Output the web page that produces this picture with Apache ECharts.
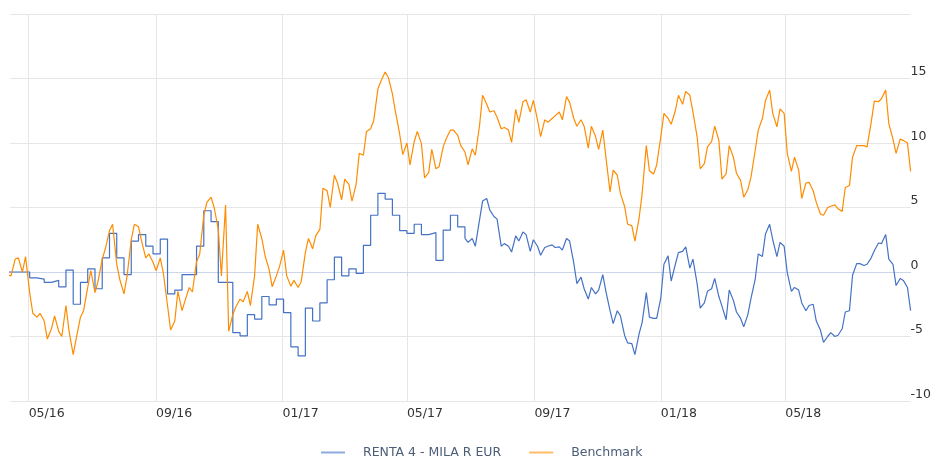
<!DOCTYPE html>
<html>
<head>
<meta charset="utf-8">
<script src="https://cdn.jsdelivr.net/npm/echarts@6/dist/echarts.min.js"></script>
<style>
html, body { margin: 0; padding: 0; background: #fff; }
#chart { width: 934px; height: 459px; }
</style>
</head>
<body>
<div id="chart"></div>
<script>
// samples are taken on Mondays and Thursdays, counted from Monday 11/04/2016
var fundName = 'RENTA 4 - MILA R EUR';
var benchName = 'Benchmark';
var tickMonths = ['2016-05', '2016-09', '2017-01', '2017-05', '2017-09', '2018-01', '2018-05'];

// fund, weekly NAV (one value per Monday, week 0 .. 63)
var fundWeekly = [
    0.0, 0.0, 0.0, -0.45, -0.55, -0.8, -0.65, -1.15, 0.15, -2.5,
    -0.8, 0.25, -1.3, 1.1, 3.0, 1.1, -0.2, 2.4, 2.9, 2.0,
    1.4, 2.55, -1.7, -1.4, -0.2, -0.2, 2.0, 4.75, 3.9, -0.8,
    -0.8, -4.7, -4.95, -3.3, -3.65, -1.9, -2.55, -2.1, -3.15, -5.8,
    -6.5, -2.8, -3.8, -2.4, -0.6, 1.15, -0.3, 0.25, -0.1, 2.07,
    4.4, 6.1, 5.65, 4.4, 3.2, 3.0, 3.7, 2.9, 3.05, 0.9,
    3.25, 4.4, 3.5, 2.6
];

// fund, Monday/Thursday values from week 63 on
var fundDaily = [
    2.6, 2.3, 2.6, 2.0, 4.0, 5.5, 5.7, 4.8, 4.3, 4.1, 2.0, 2.2, 2.0, 1.55, 2.8, 2.4, 3.1, 2.9, 1.6, 2.5,
    2.0, 1.3, 1.9, 2.0, 2.1, 1.9, 1.95, 1.7, 2.6, 2.4, 0.7, -0.9, -0.4, -1.3, -2.1, -1.2, -1.7, -1.4, -0.2, -1.5,
    -3.0, -4.0, -3.0, -3.4, -4.9, -5.5, -5.55, -6.4, -4.8, -3.9, -1.6, -3.5, -3.6, -3.6, -2.0, 0.6, 1.25, -0.7, 0.6, 1.5,
    1.6, 1.95, 0.3, 1.0, -0.9, -2.8, -2.4, -1.5, -1.3, -0.5, -1.9, -2.65, -3.7, -1.4, -2.2, -3.1, -3.6, -4.25, -3.3, -2.05,
    -0.6, 1.4, 1.2, 2.95, 3.7, 2.5, 1.2, 2.3, 2.0, -0.05, -1.5, -1.2, -1.4, -2.4, -3.0, -2.6, -2.5, -3.8, -4.5, -5.45,
    -5.0, -4.7, -5.0, -4.9, -4.4, -3.1, -3.0, -0.25, 0.65, 0.65, 0.5, 0.6, 1.1, 1.65, 2.25, 2.2, 2.9, 1.0, 0.6, -1.05,
    -0.5, -0.65, -1.2, -3.0
];

// benchmark, Monday/Thursday values from week 0
var benchmark = [
    -0.2, -0.3, 1.0, 1.1, 0.0, 1.2, -1.6, -3.2, -3.5, -3.2, -3.8, -5.2, -4.4, -3.4, -4.6, -5.0, -2.6, -4.6, -6.4, -5.1,
    -3.5, -3.0, -1.2, 0.1, -1.6, -0.7, 1.0, 1.8, 3.2, 3.7, 0.6, -0.6, -1.7, -0.3, 2.5, 3.7, 3.5, 2.4, 1.1, 1.4,
    0.75, 0.1, 1.1, -0.1, -2.6, -4.5, -3.8, -1.5, -3.0, -2.2, -1.2, -1.55, 0.8, 1.35, 4.4, 5.4, 5.8, 5.0, 3.3, -0.3,
    5.2, -4.6, -3.3, -2.7, -2.1, -2.3, -1.5, -2.6, -0.3, 3.7, 2.6, 1.3, 0.2, -1.15, -0.3, 0.4, 1.7, -0.3, -1.1, -0.65,
    -1.2, -0.75, 1.5, 2.6, 1.8, 2.8, 3.3, 6.5, 6.3, 5.0, 7.5, 6.9, 5.6, 7.2, 6.8, 5.5, 6.8, 9.2, 9.05, 10.9,
    11.1, 11.75, 14.2, 14.8, 15.5, 15.1, 13.8, 12.4, 10.7, 9.1, 10.0, 8.3, 10.1, 10.9, 9.95, 7.3, 7.7, 9.5, 8.0, 8.15,
    9.7, 10.35, 11.0, 11.0, 10.6, 9.8, 9.3, 8.3, 9.55, 9.05, 11.3, 13.7, 13.0, 12.4, 12.5, 12.0, 11.1, 11.2, 11.0, 10.05,
    12.6, 11.6, 13.2, 13.35, 12.4, 13.3, 11.8, 10.5, 11.8, 11.6, 11.9, 12.1, 12.4, 11.8, 13.6, 13.15, 11.9, 11.3, 11.8, 11.3,
    9.6, 11.3, 10.5, 9.5, 11.0, 8.9, 6.2, 7.9, 7.5, 6.1, 5.1, 3.7, 3.6, 2.4, 4.15, 6.1, 9.8, 7.85, 7.6, 8.3,
    10.5, 12.3, 11.9, 11.45, 12.5, 13.7, 13.0, 14.0, 13.7, 12.4, 10.5, 8.0, 8.4, 9.7, 10.1, 11.3, 10.2, 7.2, 7.6, 9.8,
    8.9, 7.65, 7.1, 5.8, 6.4, 7.35, 9.4, 11.0, 11.9, 13.3, 14.1, 12.3, 11.25, 12.65, 12.3, 9.2, 7.8, 8.9, 7.9, 5.7,
    6.9, 6.95, 6.3, 5.4, 4.5, 4.4, 5.0, 5.1, 5.2, 4.9, 4.7, 6.55, 6.7, 8.9, 9.8, 9.8, 9.8, 9.7, 11.6, 13.25,
    13.2, 13.45, 14.1, 11.5, 10.3, 9.2, 10.3, 10.2, 10.0, 7.8
];

function dayAt(offset) {
    return new Date(2016, 3, 11 + offset).getTime();
}
// i-th Monday/Thursday sample
function sampleDay(i) {
    return dayAt(7 * Math.floor(i / 2) + (i % 2) * 3);
}
function pad(n) {
    return n < 10 ? '0' + n : '' + n;
}

var ticks = tickMonths.map(function (s) {
    var p = s.split('-');
    return new Date(+p[0], +p[1] - 1, 1).getTime();
});

var fundColor = '#4472C4';
var benchColor = '#FF8C00';

var myChart = echarts.init(document.getElementById('chart'));
option = {
    animation: false,
    grid: {
        left: 10,
        right: 20,
        top: 14,
        bottom: 58
    },
    legend: {
        left: 316,
        top: 441,
        icon: 'rect',
        itemWidth: 24,
        itemHeight: 2,
        itemGap: 28,
        textStyle: {
            color: '#4b5d77',
            fontSize: 12.5,
            fontFamily: 'DejaVu Sans',
            padding: [0, 0, 0, 13]
        },
        data: [
            {name: fundName, itemStyle: {color: '#8eaadc'}},
            {name: benchName, itemStyle: {color: '#ffbb66'}}
        ]
    },
    xAxis: {
        // dates as timestamps on a value axis, so the month ticks can be placed exactly
        type: 'value',
        min: dayAt(2),
        max: dayAt(871),
        axisLine: {lineStyle: {color: '#ccd6eb'}},
        axisTick: {
            customValues: ticks,
            length: 4,
            lineStyle: {color: '#ccd6eb'}
        },
        splitLine: {
            show: true,
            lineStyle: {color: '#e6e6e6'}
        },
        axisLabel: {
            customValues: ticks,
            align: 'left',
            margin: 6,
            color: '#333333',
            fontSize: 12.5,
            fontFamily: 'DejaVu Sans',
            formatter: function (v) {
                var d = new Date(v);
                return pad(d.getMonth() + 1) + '/' + String(d.getFullYear()).slice(2);
            }
        }
    },
    yAxis: {
        type: 'value',
        position: 'right',
        min: -10,
        max: 20,
        interval: 5,
        axisLine: {show: false},
        axisTick: {show: false},
        splitLine: {lineStyle: {color: '#e6e6e6'}},
        axisLabel: {
            align: 'left',
            verticalAlign: 'bottom',
            margin: 0,
            color: '#333333',
            fontSize: 12.5,
            fontFamily: 'DejaVu Sans',
            formatter: function (v) {
                return v === 20 ? '' : String(v);
            }
        }
    },
    series: [
        {
            name: fundName,
            type: 'line',
            step: 'end',
            showSymbol: false,
            lineStyle: {color: fundColor, width: 1.2},
            itemStyle: {color: fundColor},
            data: fundWeekly.map(function (v, k) {
                return [dayAt(7 * k), v];
            })
        },
        {
            name: fundName,
            type: 'line',
            showSymbol: false,
            lineStyle: {color: fundColor, width: 1.2},
            itemStyle: {color: fundColor},
            data: fundDaily.map(function (v, j) {
                return [sampleDay(126 + j), v];
            })
        },
        {
            name: benchName,
            type: 'line',
            showSymbol: false,
            lineStyle: {color: benchColor, width: 1.2},
            itemStyle: {color: benchColor},
            data: benchmark.map(function (v, i) {
                return [sampleDay(i), v];
            })
        }
    ]
};
myChart.setOption(option);
</script>
</body>
</html>
